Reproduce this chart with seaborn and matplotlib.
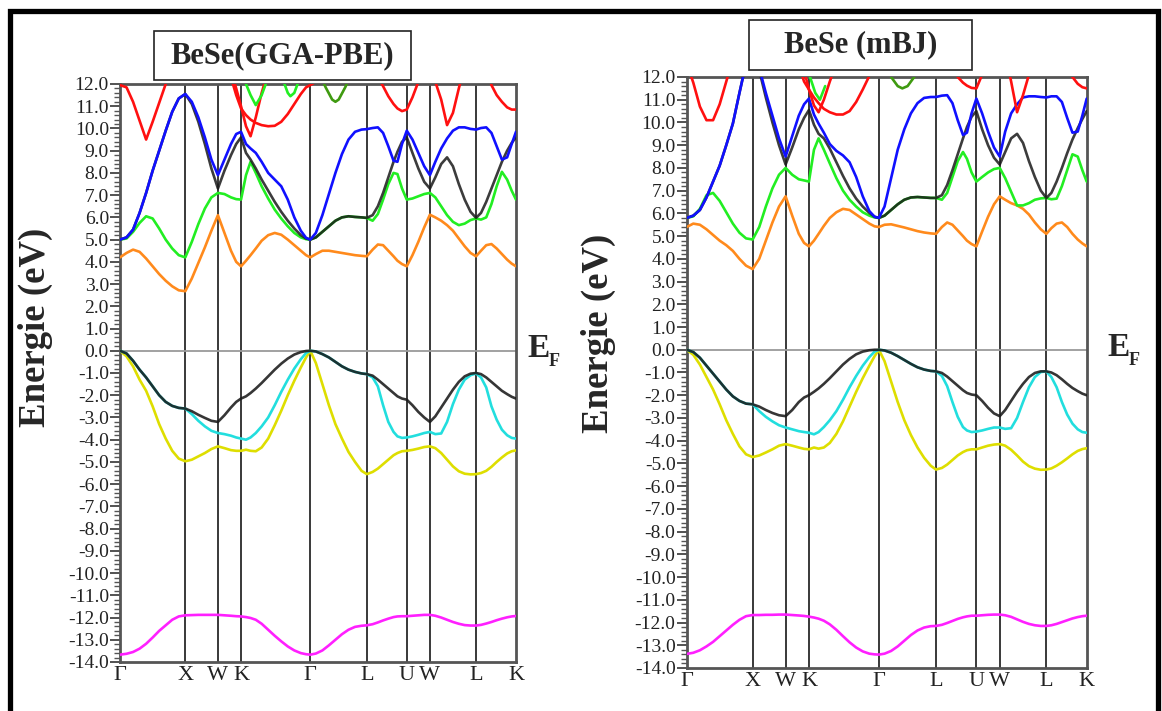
import numpy as np
import pandas as pd
import matplotlib
matplotlib.use("Agg")
import matplotlib.pyplot as plt
import seaborn as sns
from matplotlib.patches import Rectangle
from matplotlib.ticker import MultipleLocator

N = np.nan

# ---------------- k-path (fcc, cumulative path length) ----------------
K_PATH = [
    0.0, 0.1, 0.2, 0.3, 0.4, 0.5, 0.6, 0.7, 0.8, 0.9, 1.0,            # G-X
    1.1, 1.2, 1.3, 1.4, 1.5,                                            # X-W
    1.6, 1.7, 1.78, 1.854,                                              # W-K
    1.93, 2.0, 2.08, 2.17, 2.27, 2.37, 2.47, 2.57, 2.67, 2.77, 2.85, 2.915,  # K-G
    3.0, 3.1, 3.2, 3.3, 3.4, 3.5, 3.6, 3.7, 3.781,                      # G-L
    3.87, 3.95, 4.03, 4.11, 4.19, 4.25, 4.32, 4.393,                    # L-U
    4.48, 4.57, 4.66, 4.747,                                            # U-W
    4.83, 4.92, 5.01, 5.1, 5.19, 5.28, 5.37, 5.454,                     # W-L
    5.53, 5.61, 5.69, 5.77, 5.85, 5.93, 6.0, 6.066,                     # L-K
]
HS_POS = [0.0, 1.0, 1.5, 1.854, 2.915, 3.781, 4.393, 4.747, 5.454, 6.066]
HS_LABELS = ["Γ", "X", "W", "K", "Γ", "L", "U", "W", "L", "K"]
Y_TICKS = [12, 11, 10, 9, 8, 7, 6, 5, 4, 3, 2, 1, 0, -1, -2, -3, -4, -5, -6,
           -7, -8, -9, -10, -11, -12, -13, -14]

# ---------------- BeSe (GGA-PBE) ----------------
GGA_MAGENTA = [
    -13.67, -13.63, -13.55, -13.4, -13.18, -12.9, -12.6, -12.35, -12.1, -11.95, -11.9,
    -11.89, -11.88, -11.88, -11.88, -11.88,
    -11.9, -11.92, -11.94, -11.95,
    -11.98, -12.02, -12.1, -12.28, -12.55, -12.82, -13.07, -13.3, -13.48, -13.6, -13.65, -13.67,
    -13.62, -13.48, -13.25, -13.0, -12.75, -12.55, -12.42, -12.37, -12.35,
    -12.3, -12.22, -12.13, -12.05, -11.98, -11.95, -11.94, -11.94,
    -11.92, -11.9, -11.88, -11.88,
    -11.92, -12.0, -12.1, -12.2, -12.28, -12.34, -12.36, -12.36,
    -12.33, -12.27, -12.2, -12.12, -12.05, -11.99, -11.95, -11.93,
]
GGA_YELLOW = [
    0.0, -0.25, -0.7, -1.3, -1.8, -2.5, -3.3, -3.95, -4.5, -4.85, -4.97,
    -4.9, -4.75, -4.6, -4.42, -4.3,
    -4.38, -4.47, -4.5, -4.5,
    -4.45, -4.5, -4.52, -4.35, -3.95, -3.35, -2.7, -2.0, -1.35, -0.75, -0.3, 0.0,
    -0.55, -1.5, -2.45, -3.3, -3.95, -4.55, -5.0, -5.4, -5.55,
    -5.45, -5.3, -5.1, -4.9, -4.7, -4.6, -4.52, -4.5,
    -4.46, -4.4, -4.33, -4.3,
    -4.38, -4.6, -4.9, -5.2, -5.42, -5.53, -5.56, -5.55,
    -5.5, -5.4, -5.22, -5.0, -4.8, -4.62, -4.52, -4.48,
]
GGA_CYAN = [
    0.0, -0.12, -0.45, -0.85, -1.2, -1.6, -2.0, -2.3, -2.48, -2.57, -2.6,
    -2.85, -3.15, -3.4, -3.6, -3.7,
    -3.75, -3.82, -3.9, -3.95,
    -4.0, -3.9, -3.7, -3.4, -3.0, -2.45, -1.85, -1.3, -0.8, -0.38, -0.1, 0.0,
    -0.03, -0.15, -0.3, -0.5, -0.7, -0.85, -0.95, -1.02, -1.05,
    -1.2, -1.6, -2.45, -3.2, -3.65, -3.85, -3.92, -3.9,
    -3.85, -3.78, -3.7, -3.65,
    -3.75, -3.72, -3.2, -2.4, -1.75, -1.3, -1.1, -1.02,
    -1.2, -1.65, -2.5, -3.1, -3.55, -3.8, -3.92, -3.95,
]
GGA_BLACK_VB = [
    0.0, -0.12, -0.45, -0.85, -1.2, -1.6, -2.0, -2.3, -2.48, -2.57, -2.6,
    -2.72, -2.88, -3.02, -3.15, -3.2,
    -2.9, -2.55, -2.3, -2.15,
    -2.05, -1.9, -1.7, -1.45, -1.15, -0.85, -0.58, -0.35, -0.17, -0.06, -0.01, 0.0,
    -0.03, -0.15, -0.3, -0.5, -0.7, -0.85, -0.95, -1.02, -1.05,
    -1.12, -1.3, -1.5, -1.7, -1.9, -2.05, -2.15, -2.2,
    -2.45, -2.75, -3.0, -3.2,
    -2.95, -2.55, -2.15, -1.75, -1.4, -1.15, -1.03, -1.0,
    -1.05, -1.2, -1.4, -1.6, -1.8, -1.95, -2.07, -2.15,
]
GGA_ORANGE = [
    4.2, 4.4, 4.55, 4.45, 4.15, 3.8, 3.45, 3.15, 2.9, 2.72, 2.68,
    3.25, 3.95, 4.65, 5.4, 6.1,
    5.3, 4.5, 4.0, 3.8,
    4.05, 4.3, 4.6, 4.95, 5.2, 5.3, 5.22, 5.0, 4.75, 4.5, 4.3, 4.2,
    4.35, 4.5, 4.5, 4.45, 4.4, 4.35, 4.3, 4.27, 4.25,
    4.55, 4.78, 4.75, 4.5, 4.25, 4.05, 3.9, 3.8,
    4.3, 4.9, 5.55, 6.12,
    6.0, 5.85, 5.65, 5.4, 5.05, 4.7, 4.4, 4.25,
    4.5, 4.75, 4.8, 4.6, 4.35, 4.1, 3.92, 3.8,
]
GGA_GREEN = [
    5.0, 5.05, 5.35, 5.75, 6.05, 5.95, 5.5, 5.0, 4.6, 4.3, 4.2,
    4.9, 5.7, 6.4, 6.9, 7.1,
    7.05, 6.9, 6.82, 6.8,
    7.9, 8.5, 8.0, 7.4, 6.85, 6.35, 5.95, 5.6, 5.3, 5.1, 5.02, 5.0,
    5.1, 5.35, 5.6, 5.85, 6.0, 6.05, 6.02, 6.0, 5.97,
    5.85, 6.15, 6.8, 7.5, 8.0, 7.95, 7.3, 6.8,
    6.85, 6.95, 7.05, 7.1,
    6.9, 6.5, 6.1, 5.8, 5.65, 5.72, 5.88, 5.95,
    5.9, 6.0, 6.6, 7.4, 8.05, 7.7, 7.2, 6.8,
]
GGA_BLACK_CB = [
    5.0, 5.1, 5.45, 6.2, 7.1, 8.1, 9.0, 9.9, 10.75, 11.35, 11.55,
    11.1, 10.3, 9.3, 8.2, 7.3,
    8.1, 8.8, 9.3, 9.6,
    8.9, 8.6, 8.2, 7.7, 7.2, 6.7, 6.25, 5.85, 5.5, 5.2, 5.05, 5.0,
    5.1, 5.35, 5.6, 5.85, 6.0, 6.05, 6.02, 6.0, 5.98,
    6.1, 6.5, 7.1, 7.8, 8.5, 8.95, 9.4, 9.6,
    8.9, 8.2, 7.6, 7.3,
    7.8, 8.4, 8.7, 8.3, 7.5, 6.8, 6.25, 5.98,
    6.2, 6.7, 7.3, 7.9, 8.5, 9.0, 9.35, 9.6,
]
GGA_BLUE = [
    5.0, 5.1, 5.45, 6.2, 7.1, 8.1, 9.0, 9.9, 10.75, 11.35, 11.55,
    11.2, 10.5, 9.6, 8.6, 7.9,
    8.6, 9.3, 9.75, 9.85,
    9.3, 9.1, 8.9, 8.5, 8.0, 7.7, 7.4, 6.8, 6.0, 5.4, 5.08, 5.0,
    5.3, 6.1, 7.05, 8.0, 8.85, 9.5, 9.85, 9.95, 9.97,
    10.02, 10.05, 9.8, 9.2, 8.55, 8.5, 9.3, 9.9,
    9.5, 8.9, 8.3, 7.9,
    8.5, 9.1, 9.55, 9.9, 10.05, 10.05, 9.98, 9.95,
    10.02, 10.05, 9.8, 9.2, 8.6, 8.7, 9.3, 9.85,
]
GGA_RED = [
    11.95, 11.85, 11.2, 10.35, 9.5, 10.3, 11.15, 12.0, 13.0, N, N,
    N, N, N, N, N,
    13.0, 12.3, 11.5, 10.9,
    10.6, 10.4, 10.25, 10.15, 10.1, 10.12, 10.3, 10.65, 11.1, 11.55, 11.85, 11.95,
    12.1, 12.8, N, N, N, N, N, N, N,
    N, 12.3, 11.9, 11.45, 11.1, 10.9, 10.78, 10.85,
    11.4, 12.1, 12.8, N,
    12.1, 11.3, 10.15, 10.7, 11.8, 12.8, N, N,
    N, 12.8, 11.95, 11.5, 11.2, 10.95, 10.85, 10.85,
]
GGA_RED2_K = [1.6, 1.7, 1.78, 1.854, 1.93, 2.0, 2.08, 2.17, 2.27]
GGA_RED2 = [13.0, 12.6, 11.8, 11.0, 10.1, 9.65, 10.5, 11.6, 12.6]
GGA_GREEN2_K = [1.854, 1.93, 2.0, 2.08, 2.17, 2.27]
GGA_GREEN2 = [12.6, 12.0, 11.5, 11.05, 11.5, 12.3]
GGA_GREEN3_K = [2.47, 2.57, 2.61, 2.67, 2.77]
GGA_GREEN3 = [12.4, 11.6, 11.45, 11.6, 12.4]
GGA_OLIVE_K = [3.05, 3.15, 3.25, 3.3, 3.35, 3.45, 3.55]
GGA_OLIVE = [12.5, 11.85, 11.3, 11.2, 11.3, 11.85, 12.5]

# ---------------- BeSe (mBJ) ----------------
MBJ_MAGENTA = [
    -13.38, -13.33, -13.22, -13.05, -12.85, -12.6, -12.35, -12.1, -11.88, -11.72, -11.67,
    -11.67, -11.66, -11.66, -11.65, -11.65,
    -11.67, -11.69, -11.71, -11.74,
    -11.78, -11.83, -11.92, -12.08, -12.32, -12.6, -12.87, -13.1, -13.27, -13.37, -13.4, -13.41,
    -13.37, -13.25, -13.05, -12.8, -12.55, -12.35, -12.22, -12.16, -12.15,
    -12.1, -12.02, -11.93, -11.84, -11.77, -11.73, -11.7, -11.7,
    -11.68, -11.66, -11.65, -11.65,
    -11.68, -11.75, -11.86, -11.97, -12.06, -12.12, -12.15, -12.15,
    -12.12, -12.06, -11.98, -11.9, -11.82, -11.76, -11.72, -11.7,
]
MBJ_YELLOW = [
    0.0, -0.22, -0.65, -1.2, -1.75, -2.4, -3.1, -3.7, -4.25, -4.6, -4.72,
    -4.65, -4.52, -4.38, -4.22, -4.15,
    -4.22, -4.3, -4.36, -4.38,
    -4.3, -4.35, -4.3, -4.1, -3.7, -3.15, -2.5, -1.85, -1.25, -0.7, -0.28, 0.0,
    -0.5, -1.4, -2.3, -3.1, -3.75, -4.3, -4.75, -5.1, -5.27,
    -5.2, -5.05, -4.85, -4.65, -4.5, -4.42, -4.38, -4.38,
    -4.3, -4.22, -4.17, -4.15,
    -4.22, -4.4, -4.65, -4.92, -5.12, -5.23, -5.28, -5.27,
    -5.22, -5.1, -4.95, -4.78, -4.6, -4.45, -4.37, -4.33,
]
MBJ_CYAN = [
    0.0, -0.1, -0.35, -0.7, -1.05, -1.4, -1.75, -2.05, -2.25, -2.37, -2.4,
    -2.7, -2.95, -3.15, -3.32, -3.42,
    -3.5, -3.58, -3.62, -3.65,
    -3.72, -3.62, -3.4, -3.1, -2.7, -2.2, -1.65, -1.15, -0.7, -0.32, -0.08, 0.0,
    -0.03, -0.13, -0.28, -0.45, -0.62, -0.77, -0.87, -0.93, -0.95,
    -1.15, -1.6, -2.3, -2.95, -3.4, -3.55, -3.62, -3.6,
    -3.55, -3.48, -3.42, -3.42,
    -3.48, -3.45, -3.0, -2.3, -1.65, -1.2, -0.98, -0.95,
    -1.2, -1.65, -2.3, -2.85, -3.25, -3.5, -3.62, -3.65,
]
MBJ_BLACK_VB = [
    0.0, -0.1, -0.35, -0.7, -1.05, -1.4, -1.75, -2.05, -2.25, -2.37, -2.4,
    -2.5, -2.65, -2.78, -2.88, -2.92,
    -2.65, -2.3, -2.1, -2.0,
    -1.85, -1.7, -1.5, -1.25, -0.95, -0.65, -0.4, -0.2, -0.08, -0.02, 0.0, 0.0,
    -0.03, -0.13, -0.28, -0.45, -0.62, -0.77, -0.87, -0.93, -0.95,
    -1.02, -1.18, -1.38, -1.58, -1.78, -1.9, -1.97, -2.0,
    -2.25, -2.55, -2.8, -2.92,
    -2.65, -2.25, -1.85, -1.5, -1.2, -1.02, -0.95, -0.95,
    -1.0, -1.12, -1.3, -1.5, -1.68, -1.82, -1.93, -2.0,
]
MBJ_ORANGE = [
    5.4, 5.55, 5.5, 5.3, 5.05, 4.8, 4.6, 4.35, 4.0, 3.7, 3.55,
    4.0, 4.8, 5.6, 6.3, 6.75,
    5.9, 5.1, 4.7, 4.55,
    4.8, 5.1, 5.45, 5.8, 6.05, 6.2, 6.15, 5.95, 5.75, 5.55, 5.43, 5.4,
    5.5, 5.52, 5.45, 5.38, 5.3, 5.22, 5.16, 5.12, 5.1,
    5.4, 5.6, 5.5, 5.25, 5.0, 4.8, 4.65, 4.55,
    5.2, 5.85, 6.4, 6.75,
    6.6, 6.45, 6.35, 6.2, 5.95, 5.6, 5.3, 5.1,
    5.35, 5.55, 5.6, 5.4, 5.1, 4.85, 4.68, 4.55,
]
MBJ_GREEN = [
    5.8, 5.87, 6.2, 6.8, 6.9, 6.55, 6.05, 5.55, 5.15, 4.9, 4.85,
    5.4, 6.3, 7.1, 7.7, 8.0,
    7.7, 7.5, 7.45, 7.4,
    8.8, 9.3, 8.8, 8.2, 7.55, 7.0, 6.6, 6.3, 6.05, 5.9, 5.82, 5.8,
    5.9, 6.15, 6.4, 6.6, 6.7, 6.72, 6.7, 6.68, 6.68,
    6.6, 6.9, 7.6, 8.3, 8.7, 8.4, 7.8, 7.4,
    7.6, 7.8, 7.95, 8.0,
    7.55, 6.95, 6.35, 6.35, 6.45, 6.6, 6.66, 6.68,
    6.62, 6.65, 7.2, 7.9, 8.6, 8.5, 7.9, 7.4,
]
MBJ_BLACK_CB = [
    5.8, 5.9, 6.15, 6.7, 7.4, 8.1, 9.0, 9.95, 11.3, 12.6, N,
    12.3, 11.1, 10.0, 9.0, 8.15,
    8.9, 9.7, 10.2, 10.55,
    9.9, 9.5, 9.3, 8.85, 8.25, 7.65, 7.1, 6.65, 6.3, 6.02, 5.85, 5.8,
    5.9, 6.15, 6.4, 6.6, 6.7, 6.72, 6.7, 6.68, 6.68,
    6.8, 7.25, 7.9, 8.6, 9.3, 9.8, 10.25, 10.5,
    9.7, 9.0, 8.45, 8.15,
    8.7, 9.3, 9.5, 9.1, 8.3, 7.6, 7.0, 6.68,
    6.9, 7.4, 8.0, 8.65, 9.25, 9.75, 10.15, 10.5,
]
MBJ_BLUE = [
    5.8, 5.9, 6.15, 6.7, 7.4, 8.1, 9.0, 9.95, 11.3, 12.6, N,
    12.4, 11.3, 10.3, 9.3, 8.5,
    9.4, 10.3, 10.8, 11.05,
    10.35, 9.95, 9.55, 9.05, 8.75, 8.55, 8.25, 7.6, 6.75, 6.1, 5.85, 5.8,
    6.3, 7.55, 8.8, 9.7, 10.4, 10.85, 11.08, 11.12, 11.12,
    11.18, 11.2, 10.85, 10.1, 9.45, 9.55, 10.4, 11.05,
    10.4, 9.6, 8.9, 8.5,
    9.6, 10.4, 10.8, 11.1, 11.15, 11.15, 11.12, 11.1,
    11.15, 11.15, 10.9, 10.2, 9.55, 9.6, 10.3, 11.05,
]
MBJ_RED = [
    12.6, 11.75, 10.7, 10.1, 10.1, 10.8, 11.8, 12.8, N, N, N,
    N, N, N, N, N,
    N, 12.5, 11.8, 11.45,
    11.1, 10.85, 10.6, 10.45, 10.35, 10.35, 10.5, 10.9, 11.45, 12.05, 12.6, N,
    N, N, N, N, N, N, N, N, N,
    N, N, 12.5, 12.0, 11.75, 11.62, 11.52, 11.5,
    12.1, 13.0, N, N,
    13.0, 11.8, 10.45, 11.2, 12.1, 13.0, N, N,
    N, N, N, 12.6, 12.0, 11.7, 11.55, 11.5,
]
MBJ_RED2_K = [1.7, 1.78, 1.854, 1.93, 2.0, 2.08, 2.17, 2.27]
MBJ_RED2 = [13.0, 12.3, 11.45, 10.75, 10.45, 11.0, 11.8, 12.6]
MBJ_GREEN2_K = [1.8, 1.87, 1.95, 2.02, 2.1]
MBJ_GREEN2 = [12.6, 12.0, 11.3, 11.0, 11.6]
MBJ_OLIVE_K = [3.0, 3.1, 3.2, 3.27, 3.35, 3.45, 3.55]
MBJ_OLIVE = [12.6, 12.0, 11.6, 11.5, 11.6, 12.0, 12.6]

# ---------------- style ----------------
C_RED, C_BLUE, C_BLACK = "#ff1010", "#1010ff", "#1a1a1a"
C_GREEN, C_ORANGE, C_YELLOW = "#22ee22", "#ff8a1c", "#dede00"
C_CYAN, C_MAGENTA, C_OLIVE = "#22dede", "#ff20ff", "#3f9a10"
LW = 1.9

sns.set_theme(style="ticks")
plt.rcParams["font.family"] = ["Liberation Serif", "DejaVu Serif"]
plt.rcParams["axes.unicode_minus"] = False


def draw_band(ax, k, e, color, z=3, alpha=1.0):
    df = pd.DataFrame({"k": k, "E": e})
    df["seg"] = df["E"].isna().cumsum()
    df = df.dropna()
    sns.lineplot(data=df, x="k", y="E", units="seg", estimator=None, sort=False,
                 color=color, lw=LW, zorder=z, alpha=alpha, ax=ax, legend=False)


def setup_axes(ax):
    ax.set_xlim(HS_POS[0], HS_POS[-1])
    ax.set_ylim(-14, 12)
    for p in HS_POS[1:-1]:
        ax.axvline(p, color="#2a2a2a", lw=1.3, zorder=1)
    ax.axhline(0, color="#9a9a9a", lw=1.3, zorder=1)
    ax.set_xticks(HS_POS)
    ax.set_xticklabels(HS_LABELS, fontsize=16)
    ax.set_yticks(Y_TICKS)
    ax.set_yticklabels([f"{v:.1f}" for v in Y_TICKS], fontsize=14)
    ax.yaxis.set_minor_locator(MultipleLocator(0.2))
    ax.tick_params(axis="x", length=0, pad=3, colors="#222")
    ax.tick_params(axis="y", which="major", direction="out", length=7, width=1.3,
                   color="#444", pad=1, labelcolor="#222")
    ax.tick_params(axis="y", which="minor", direction="out", length=4, width=1.0,
                   color="#555")
    for s in ax.spines.values():
        s.set_color("#555")
        s.set_linewidth(2.0)


W, H = 1162, 711
fig = plt.figure(figsize=(W / 100, H / 100), dpi=100)

def fx(px):
    return px / W

def fy(py):
    return 1 - py / H

ax1 = fig.add_axes([fx(120), fy(662), fx(516) - fx(120), fy(84) - fy(662)])
ax2 = fig.add_axes([fx(686.7), fy(668), fx(1086.7) - fx(686.7), fy(77) - fy(668)])

panels = [
    (ax1, dict(mag=GGA_MAGENTA, yel=GGA_YELLOW, cya=GGA_CYAN, bvb=GGA_BLACK_VB,
               ora=GGA_ORANGE, gre=GGA_GREEN, bcb=GGA_BLACK_CB, blu=GGA_BLUE,
               red=GGA_RED),
     [(GGA_RED2_K, GGA_RED2, C_RED), (GGA_GREEN2_K, GGA_GREEN2, C_GREEN),
      (GGA_GREEN3_K, GGA_GREEN3, C_GREEN), (GGA_OLIVE_K, GGA_OLIVE, C_OLIVE)]),
    (ax2, dict(mag=MBJ_MAGENTA, yel=MBJ_YELLOW, cya=MBJ_CYAN, bvb=MBJ_BLACK_VB,
               ora=MBJ_ORANGE, gre=MBJ_GREEN, bcb=MBJ_BLACK_CB, blu=MBJ_BLUE,
               red=MBJ_RED),
     [(MBJ_RED2_K, MBJ_RED2, C_RED), (MBJ_GREEN2_K, MBJ_GREEN2, C_GREEN),
      (MBJ_OLIVE_K, MBJ_OLIVE, C_OLIVE)]),
]

for ax, b, extra in panels:
    for name, vals in b.items():
        assert len(vals) == len(K_PATH), (name, len(vals))
    setup_axes(ax)
    draw_band(ax, K_PATH, b["mag"], C_MAGENTA, z=3)
    draw_band(ax, K_PATH, b["yel"], C_YELLOW, z=3)
    draw_band(ax, K_PATH, b["cya"], C_CYAN, z=3)
    draw_band(ax, K_PATH, b["bvb"], C_BLACK, z=4, alpha=0.88)
    draw_band(ax, K_PATH, b["ora"], C_ORANGE, z=3)
    draw_band(ax, K_PATH, b["gre"], C_GREEN, z=3)
    draw_band(ax, K_PATH, b["bcb"], C_BLACK, z=4, alpha=0.85)
    draw_band(ax, K_PATH, b["blu"], C_BLUE, z=5)
    draw_band(ax, K_PATH, b["red"], C_RED, z=5)
    for kk, ee, cc in extra:
        draw_band(ax, kk, ee, cc, z=5)
    ax.set_xlabel("")
    ax.set_ylabel("")
    ax.set_xlim(HS_POS[0], HS_POS[-1])
    ax.set_ylim(-14, 12)

# outer frame (bottom edge lies below the canvas)
fig.add_artist(Rectangle((fx(9.5), -0.05), fx(1158) - fx(9.5), fy(10.5) + 0.05,
                         transform=fig.transFigure, fill=False, lw=3.8,
                         edgecolor="black", zorder=10))

# title boxes
fig.add_artist(Rectangle((fx(154), fy(80)), fx(411) - fx(154), fy(31) - fy(80),
                         transform=fig.transFigure, fill=False, lw=1.2,
                         edgecolor="#222"))
fig.text(fx(282.5), fy(56), "BeSe(GGA-PBE)", ha="center", va="center",
         fontsize=22, fontweight="bold")
fig.add_artist(Rectangle((fx(749), fy(70)), fx(972) - fx(749), fy(20) - fy(70),
                         transform=fig.transFigure, fill=False, lw=1.2,
                         edgecolor="#222"))
fig.text(fx(860.5), fy(45), "BeSe (mBJ)", ha="center", va="center",
         fontsize=22, fontweight="bold")

# y labels
fig.text(fx(35), fy(327), "Energie (eV)", rotation=90, ha="center", va="center",
         fontsize=26.5, fontweight="bold")
fig.text(fx(598), fy(333), "Energie (eV)", rotation=90, ha="center", va="center",
         fontsize=26.5, fontweight="bold")

# E_F markers
for ex, ey in [(527, 357), (1107, 356)]:
    fig.text(fx(ex), fy(ey), "E", ha="left", va="baseline", fontsize=24,
             fontweight="bold")
    fig.text(fx(ex + 22), fy(ey + 9), "F", ha="left", va="baseline", fontsize=13,
             fontweight="bold")

fig.savefig("out.png", dpi=100)
